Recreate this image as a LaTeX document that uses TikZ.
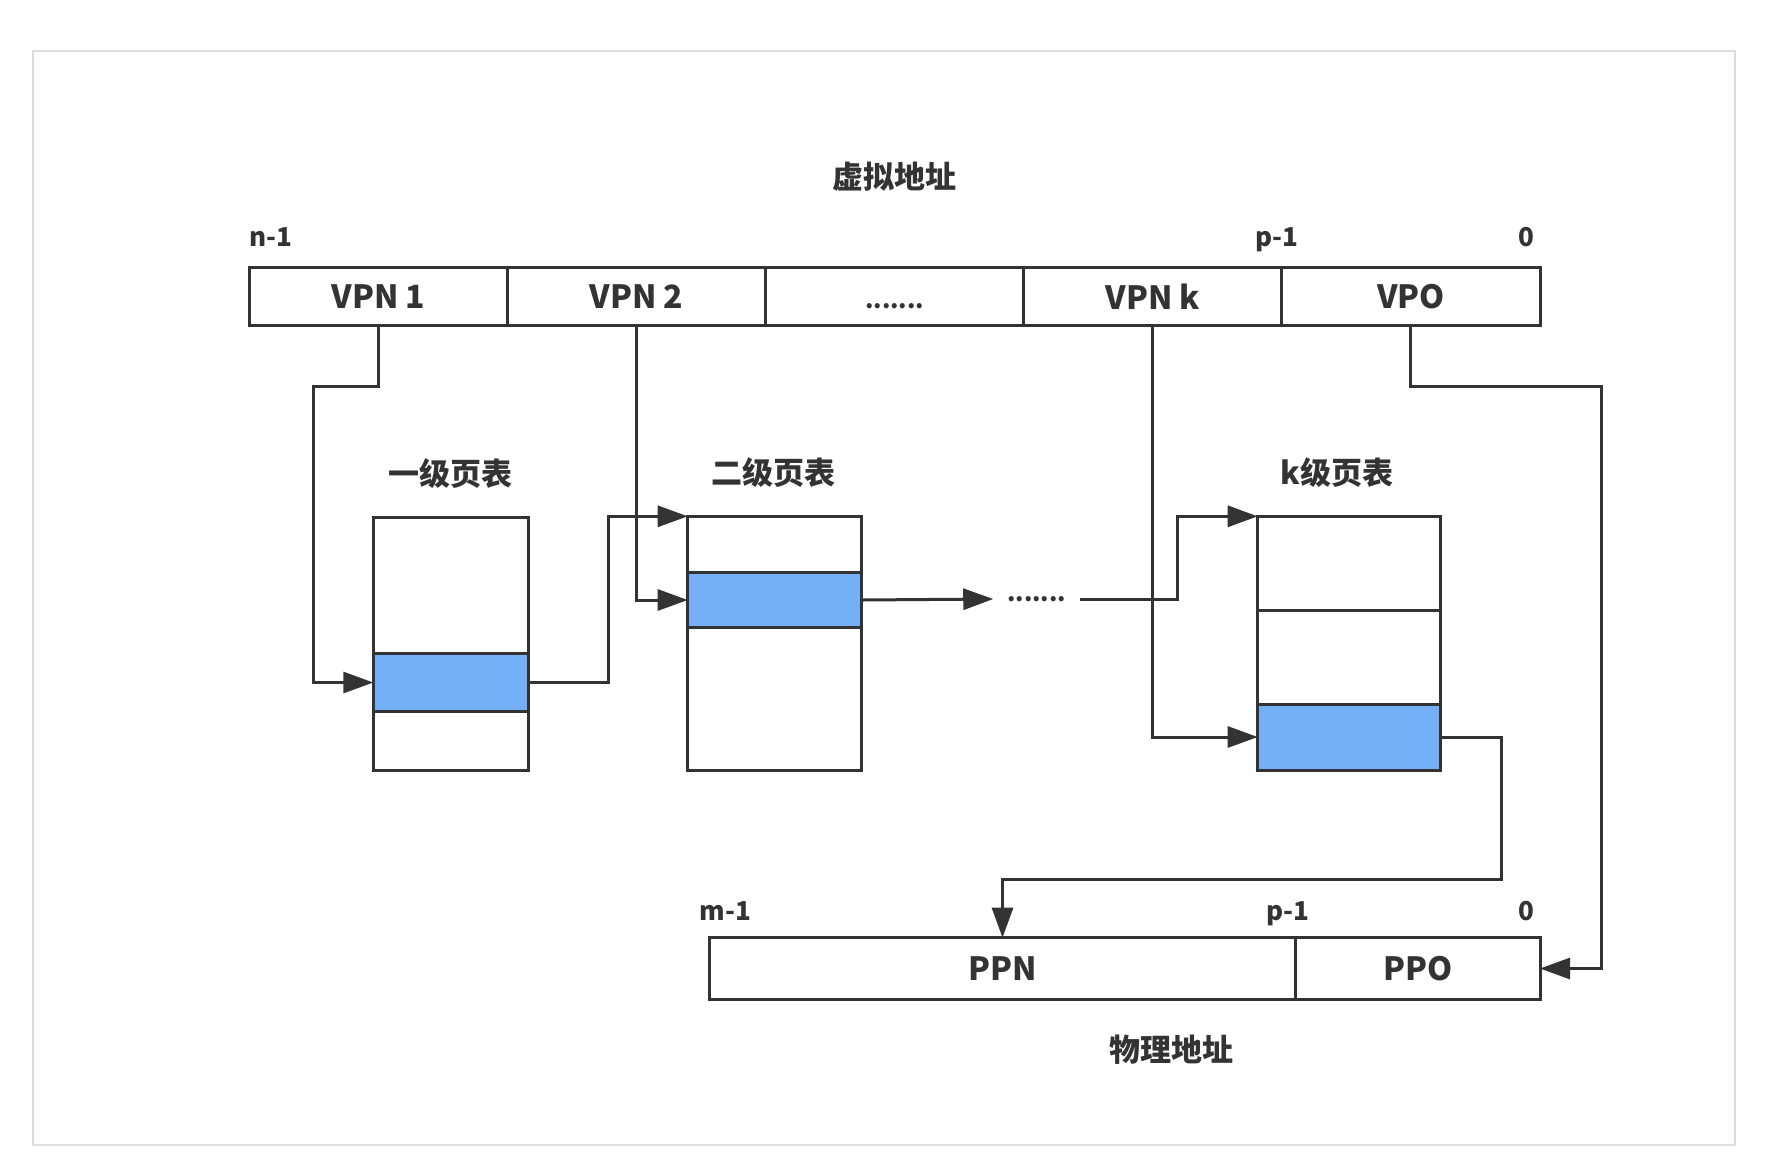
\documentclass[tikz,border=0pt]{standalone}
\usepackage{fontspec}
\setmainfont{Noto Sans CJK SC}
\usetikzlibrary{positioning}
\usetikzlibrary{arrows.meta}
\definecolor{ink}{HTML}{333333}
\definecolor{pick}{HTML}{75AFF7}
\definecolor{frame}{HTML}{DCDCDC}
\tikzset{pgrow/.style={draw=ink, line width=1.5pt, outer sep=0pt, inner sep=0pt, text=ink,
    font=\fontsize{16}{18}\selectfont\bfseries, minimum width=#1}}
\tikzset{vfield/.style={pgrow=129.07pt, minimum height=28.65pt}}
\tikzset{hit/.style={fill=pick}}
\tikzset{bit/.style={text=ink, inner sep=0pt, font=\fontsize{13}{15}\selectfont\bfseries}}
\tikzset{caption/.style={text=ink, inner sep=0pt, font=\fontsize{15.5}{18}\selectfont\bfseries}}
\tikzset{link/.style={draw=ink, line width=1.5pt, -{Triangle[length=15pt,width=10.5pt]}}}
\newcommand{\gapdots}{{\fontsize{12}{14}\selectfont .......}}

\begin{document}
\begin{tikzpicture}[x=0.5pt, y=-0.5pt]
\useasboundingbox (0,0) rectangle (1770,1168);
\draw[frame, line width=1pt] (33,51) rectangle (1735,1145);

% virtual address
\node[caption] (va) at (894.5,176.7) {虚拟地址};
\node[vfield] (v1) at (378.4,296.35) {VPN 1};
\node[vfield, right=0pt of v1] (v2) {VPN 2};
\node[vfield, right=0pt of v2] (vdots) {\vphantom{VPN}\gapdots};
\node[vfield, right=0pt of vdots] (vk) {VPN k};
\node[vfield, right=0pt of vk] (vpo) {VPO};
\node[bit, anchor=base west] (vhi) at (249.3,246) {n-1};
\node[bit, anchor=base] (vmid) at (1276.7,246) {p-1};
\node[bit, anchor=base] (vlo) at (1526.7,246) {0};

% page tables
\node[caption] (h1) at (450,473.3) {一级页表};
\node[pgrow=77.5pt, minimum height=67.8pt, anchor=north] (t1a) at (450.8,517.7) {};
\node[pgrow=77.5pt, minimum height=29.2pt, hit, below=0pt of t1a] (t1b) {};
\node[pgrow=77.5pt, minimum height=29.15pt, below=0pt of t1b] (t1c) {};

\node[caption] (h2) at (773.3,473) {二级页表};
\node[pgrow=87pt, minimum height=28pt, anchor=north] (t2a) at (774.7,516.3) {};
\node[pgrow=87pt, minimum height=27.7pt, hit, below=0pt of t2a] (t2b) {};
\node[pgrow=87pt, minimum height=71.15pt, below=0pt of t2b] (t2c) {};

\node[pgrow=0pt, draw=none, inner xsep=7pt] (gap) at (1036.7,599) {\gapdots};

\node[caption] (hk) at (1336.7,473) {k级页表};
\node[pgrow=91.15pt, minimum height=46.85pt, anchor=north] (tka) at (1348.85,516.3) {};
\node[pgrow=91.15pt, minimum height=47pt, below=0pt of tka] (tkb) {};
\node[pgrow=91.15pt, minimum height=33pt, hit, below=0pt of tkb] (tkc) {};

% physical address
\node[pgrow=293.2pt, minimum height=30.8pt, anchor=west] (ppn) at (709.3,968.5) {PPN};
\node[pgrow=122.15pt, minimum height=30.8pt, right=0pt of ppn] (ppo) {PPO};
\node[bit, anchor=base west] (phi) at (699.3,920) {m-1};
\node[bit, anchor=base] (pmid) at (1288.3,920) {p-1};
\node[bit, anchor=base] (plo) at (1526.7,920) {0};
\node[caption] (pa) at (1171.5,1050) {物理地址};

\draw[link] (v1.south) |- (313.3,386) |- (t1b.west);
\draw[link] (t1b.east) -- ++(80,0) |- (t2a.north west);
\draw[link] (v2.south) |- (t2b.west);
\draw[link] (t2b.east) -- (gap.west);
\draw[link] (gap.east) -- (1177.7,599) |- (tka.north west);
\draw[link] (vk.south) |- (tkc.west);
\draw[link] (tkc.east) -| (1501.7,879.3) -| (ppn.north);
\draw[link] (vpo.south) |- (1601.7,386) |- (ppo.east);
\end{tikzpicture}
\end{document}
